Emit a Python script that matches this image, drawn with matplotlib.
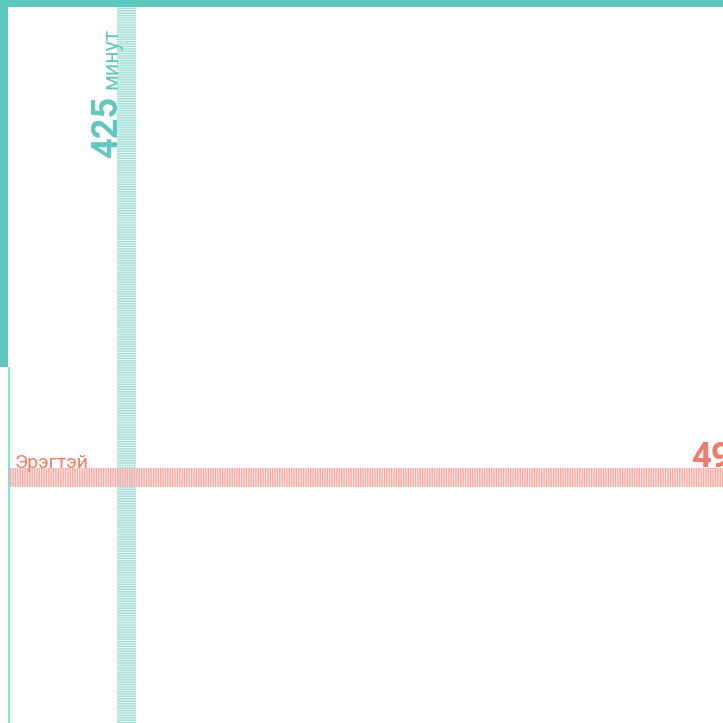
import matplotlib
matplotlib.use("Agg")
import matplotlib.pyplot as plt

# data
minutes_value = 425
minutes_unit = "минут"
group_label = "Эрэгтэй"
group_value = 49

TEAL = "#5fc8bf"
SALMON = "#f47a6c"

plt.rcParams['font.family'] = ['Roboto', 'DejaVu Sans']
plt.rcParams['hatch.linewidth'] = 1.0

fig = plt.figure(figsize=(7.23, 7.23), dpi=100)
ax = fig.add_axes([0, 0, 1, 1])
ax.set_xlim(0, 723)
ax.set_ylim(723, 0)
ax.axis('off')

# frame
ax.add_patch(plt.Rectangle((0, 0), 723, 7, color=TEAL, lw=0, zorder=5))
ax.add_patch(plt.Rectangle((0, 0), 8, 367, color=TEAL, lw=0, zorder=5))
ax.plot([8.8, 8.8], [367, 723], color="#94dbd4", lw=1.6, zorder=5, solid_capstyle='butt')

# vertical bar (minutes)
ax.bar([126.5], [723 - 7], bottom=7, width=19, facecolor="#e4f6f4",
       edgecolor="#a3e1da", linewidth=0, hatch="-------", zorder=2)
# horizontal bar (group)
ax.barh([477.5], [723 - 10], left=10, height=19, facecolor=(0.99, 0.89, 0.88, 0.55),
        edgecolor="#f8a89f", linewidth=0, hatch="|||||||", zorder=3)

# texts
ax.text(117.5, 158, str(minutes_value), rotation=90, rotation_mode='anchor',
        ha='left', va='baseline', color=TEAL, fontsize=26, fontweight='bold', zorder=6)
ax.text(117.5, 89, minutes_unit, rotation=90, rotation_mode='anchor',
        ha='left', va='baseline', color=TEAL, fontsize=15.5, zorder=6)
ax.text(15, 467.5, group_label, ha='left', va='baseline', color=SALMON,
        fontsize=14, zorder=6)
ax.text(691, 467, str(group_value), ha='left', va='baseline', color=SALMON,
        fontsize=25, fontweight='bold', zorder=6, clip_on=False)

fig.savefig("out.png", dpi=100)
